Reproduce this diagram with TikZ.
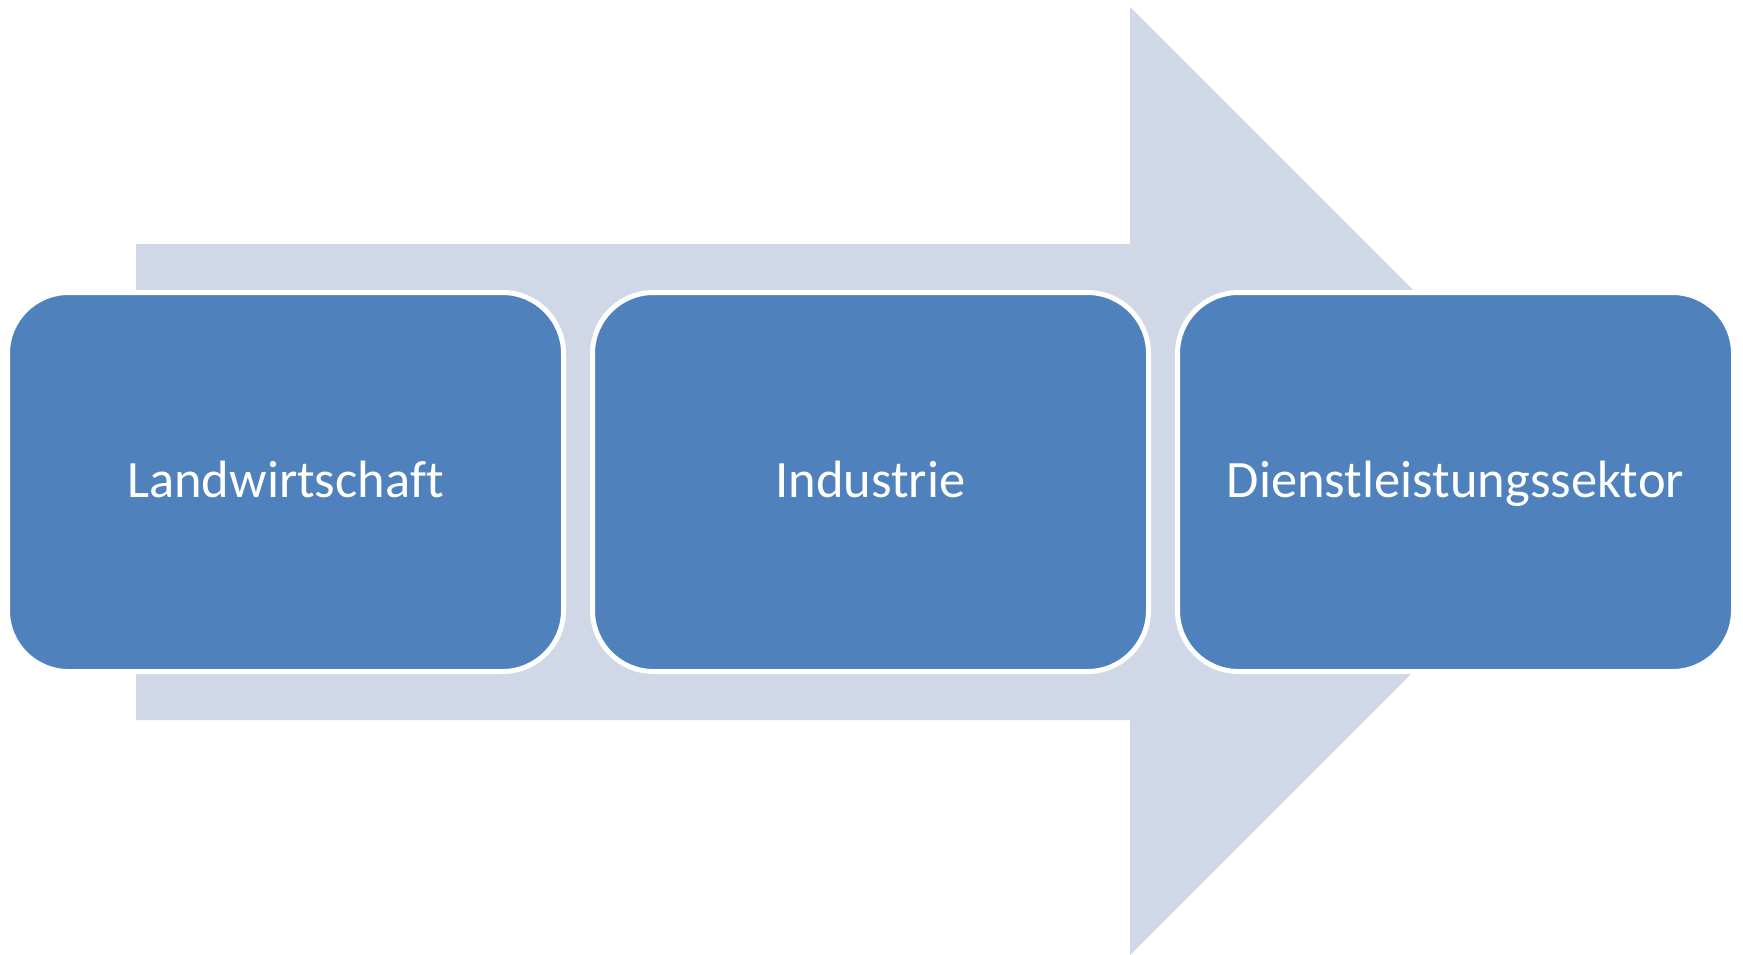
\documentclass[tikz,border=0pt]{standalone}
\usepackage{fontspec}
\setmainfont{Carlito}[Ligatures=NoCommon]
\definecolor{arrowgray}{HTML}{D0D8E8}
\definecolor{boxblue}{HTML}{4F81BD}
\begin{document}
\begin{tikzpicture}[x=1pt,y=-1pt,
  sector/.style={draw=white, line width=5pt, fill=boxblue, rounded corners=61pt,
    minimum width=556pt, minimum height=379pt, inner sep=0pt,
    text=white, font=\fontsize{52.5}{60}\selectfont, text height=30pt, text depth=0pt}]
\useasboundingbox (0,0) rectangle (1743,955);
\fill[arrowgray] (136,244) -- (1130,244) -- (1130,7) -- (1604,481) -- (1130,955) -- (1130,720) -- (136,720) -- cycle;
\node[sector] (a) at (285.5,482) {Landwirtschaft};
\node[sector] (b) at (870.5,482) {Industrie};
\node[sector] (c) at (1455.5,482) {Dienstleistungssektor};
\end{tikzpicture}
\end{document}
